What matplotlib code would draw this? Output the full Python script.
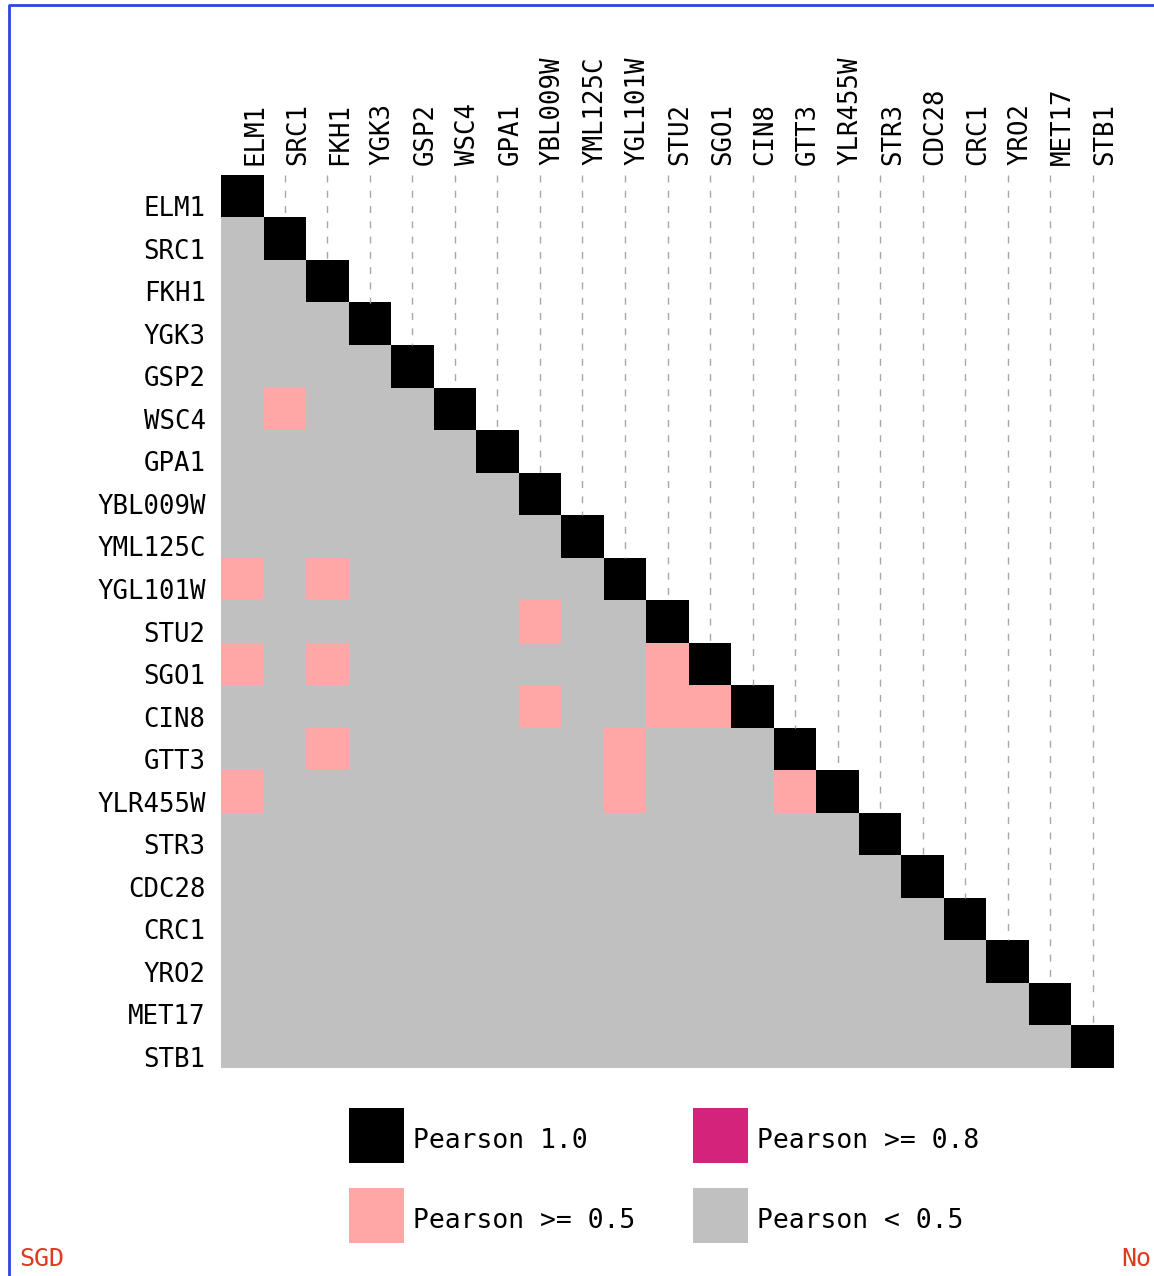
import numpy as np
import matplotlib
matplotlib.use("Agg")
import matplotlib.pyplot as plt
from matplotlib.colors import ListedColormap
from matplotlib.patches import Rectangle

# gene order (rows and columns)
genes = ["ELM1", "SRC1", "FKH1", "YGK3", "GSP2", "WSC4", "GPA1", "YBL009W",
         "YML125C", "YGL101W", "STU2", "SGO1", "CIN8", "GTT3", "YLR455W",
         "STR3", "CDC28", "CRC1", "YRO2", "MET17", "STB1"]

# pairs with Pearson >= 0.5 (row gene, column gene)
pairs_05 = [("WSC4", "SRC1"),
            ("YGL101W", "ELM1"), ("YGL101W", "FKH1"),
            ("STU2", "YBL009W"),
            ("SGO1", "ELM1"), ("SGO1", "FKH1"), ("SGO1", "STU2"),
            ("CIN8", "YBL009W"), ("CIN8", "STU2"), ("CIN8", "SGO1"),
            ("GTT3", "FKH1"), ("GTT3", "YGL101W"),
            ("YLR455W", "ELM1"), ("YLR455W", "YGL101W"), ("YLR455W", "GTT3")]

# pairs with Pearson >= 0.8 (none in this set)
pairs_08 = []

legend_labels = ["Pearson 1.0", "Pearson >= 0.8", "Pearson >= 0.5", "Pearson < 0.5"]

# level codes: 0 = <0.5, 1 = >=0.5, 2 = >=0.8, 3 = 1.0
colors = ["#c0c0c0", "#ffa6a6", "#d4237a", "#000000"]

n = len(genes)
idx = {g: i for i, g in enumerate(genes)}
mat = np.zeros((n, n))
for r, c in pairs_05:
    mat[idx[r], idx[c]] = 1
for r, c in pairs_08:
    mat[idx[r], idx[c]] = 2
for i in range(n):
    mat[i, i] = 3
mask = np.triu(np.ones((n, n), dtype=bool), k=1)
mat = np.ma.masked_array(mat, mask=mask)

W, H = 1154, 1276
fig = plt.figure(figsize=(W / 100, H / 100), dpi=100)
mono = "DejaVu Sans Mono"

# background layer in pixel coordinates
bg = fig.add_axes([0, 0, 1, 1])
bg.set_xlim(0, W)
bg.set_ylim(H, 0)
bg.axis("off")
bg.plot([9, 9, W + 5], [H + 5, 5, 5], color="#2a45e0", lw=2, solid_capstyle="butt")

# heatmap axes
x0, x1, y0, y1 = 221, 1114, 175, 1068
ax = fig.add_axes([x0 / W, 1 - y1 / H, (x1 - x0) / W, (y1 - y0) / H])
cmap = ListedColormap(colors)
ax.imshow(mat, cmap=cmap, vmin=-0.5, vmax=3.5, aspect="auto", interpolation="nearest")

# dashed guides from the column labels down to the diagonal
for j in range(1, n):
    ax.vlines(j, -0.5, j - 0.5, colors="#a8a8a8", lw=1, linestyles=(0, (5, 6)))

ax.set_xlim(-0.5, n - 0.5)
ax.set_ylim(n - 0.5, -0.5)
for s in ax.spines.values():
    s.set_visible(False)
ax.set_yticks(range(n))
ax.set_yticklabels(genes, fontsize=18.5, family=mono, va="top")
ax.xaxis.tick_top()
ax.set_xticks(range(n))
ax.set_xticklabels(genes, fontsize=18.5, family=mono, rotation=90, ha="left", va="bottom")
ax.tick_params(axis="y", length=0, pad=11)
ax.tick_params(axis="x", length=0, pad=7)

# legend
swatches = [(349, 1108), (693, 1108), (349, 1188), (693, 1188)]
for (sx, sy), col, lab in zip(swatches, [colors[3], colors[2], colors[1], colors[0]], legend_labels):
    bg.add_patch(Rectangle((sx, sy), 55, 55, facecolor=col, edgecolor="none"))
    bg.text(sx + 64, sy + 33, lab, fontsize=19, family=mono, va="center", ha="left")

bg.text(19, 1259, "SGD", fontsize=18, family=mono, color="#e03a20", va="center", ha="left")
bg.text(1121, 1259, "No", fontsize=18, family=mono, color="#e03a20", va="center", ha="left")

fig.savefig("out.png", dpi=100)
